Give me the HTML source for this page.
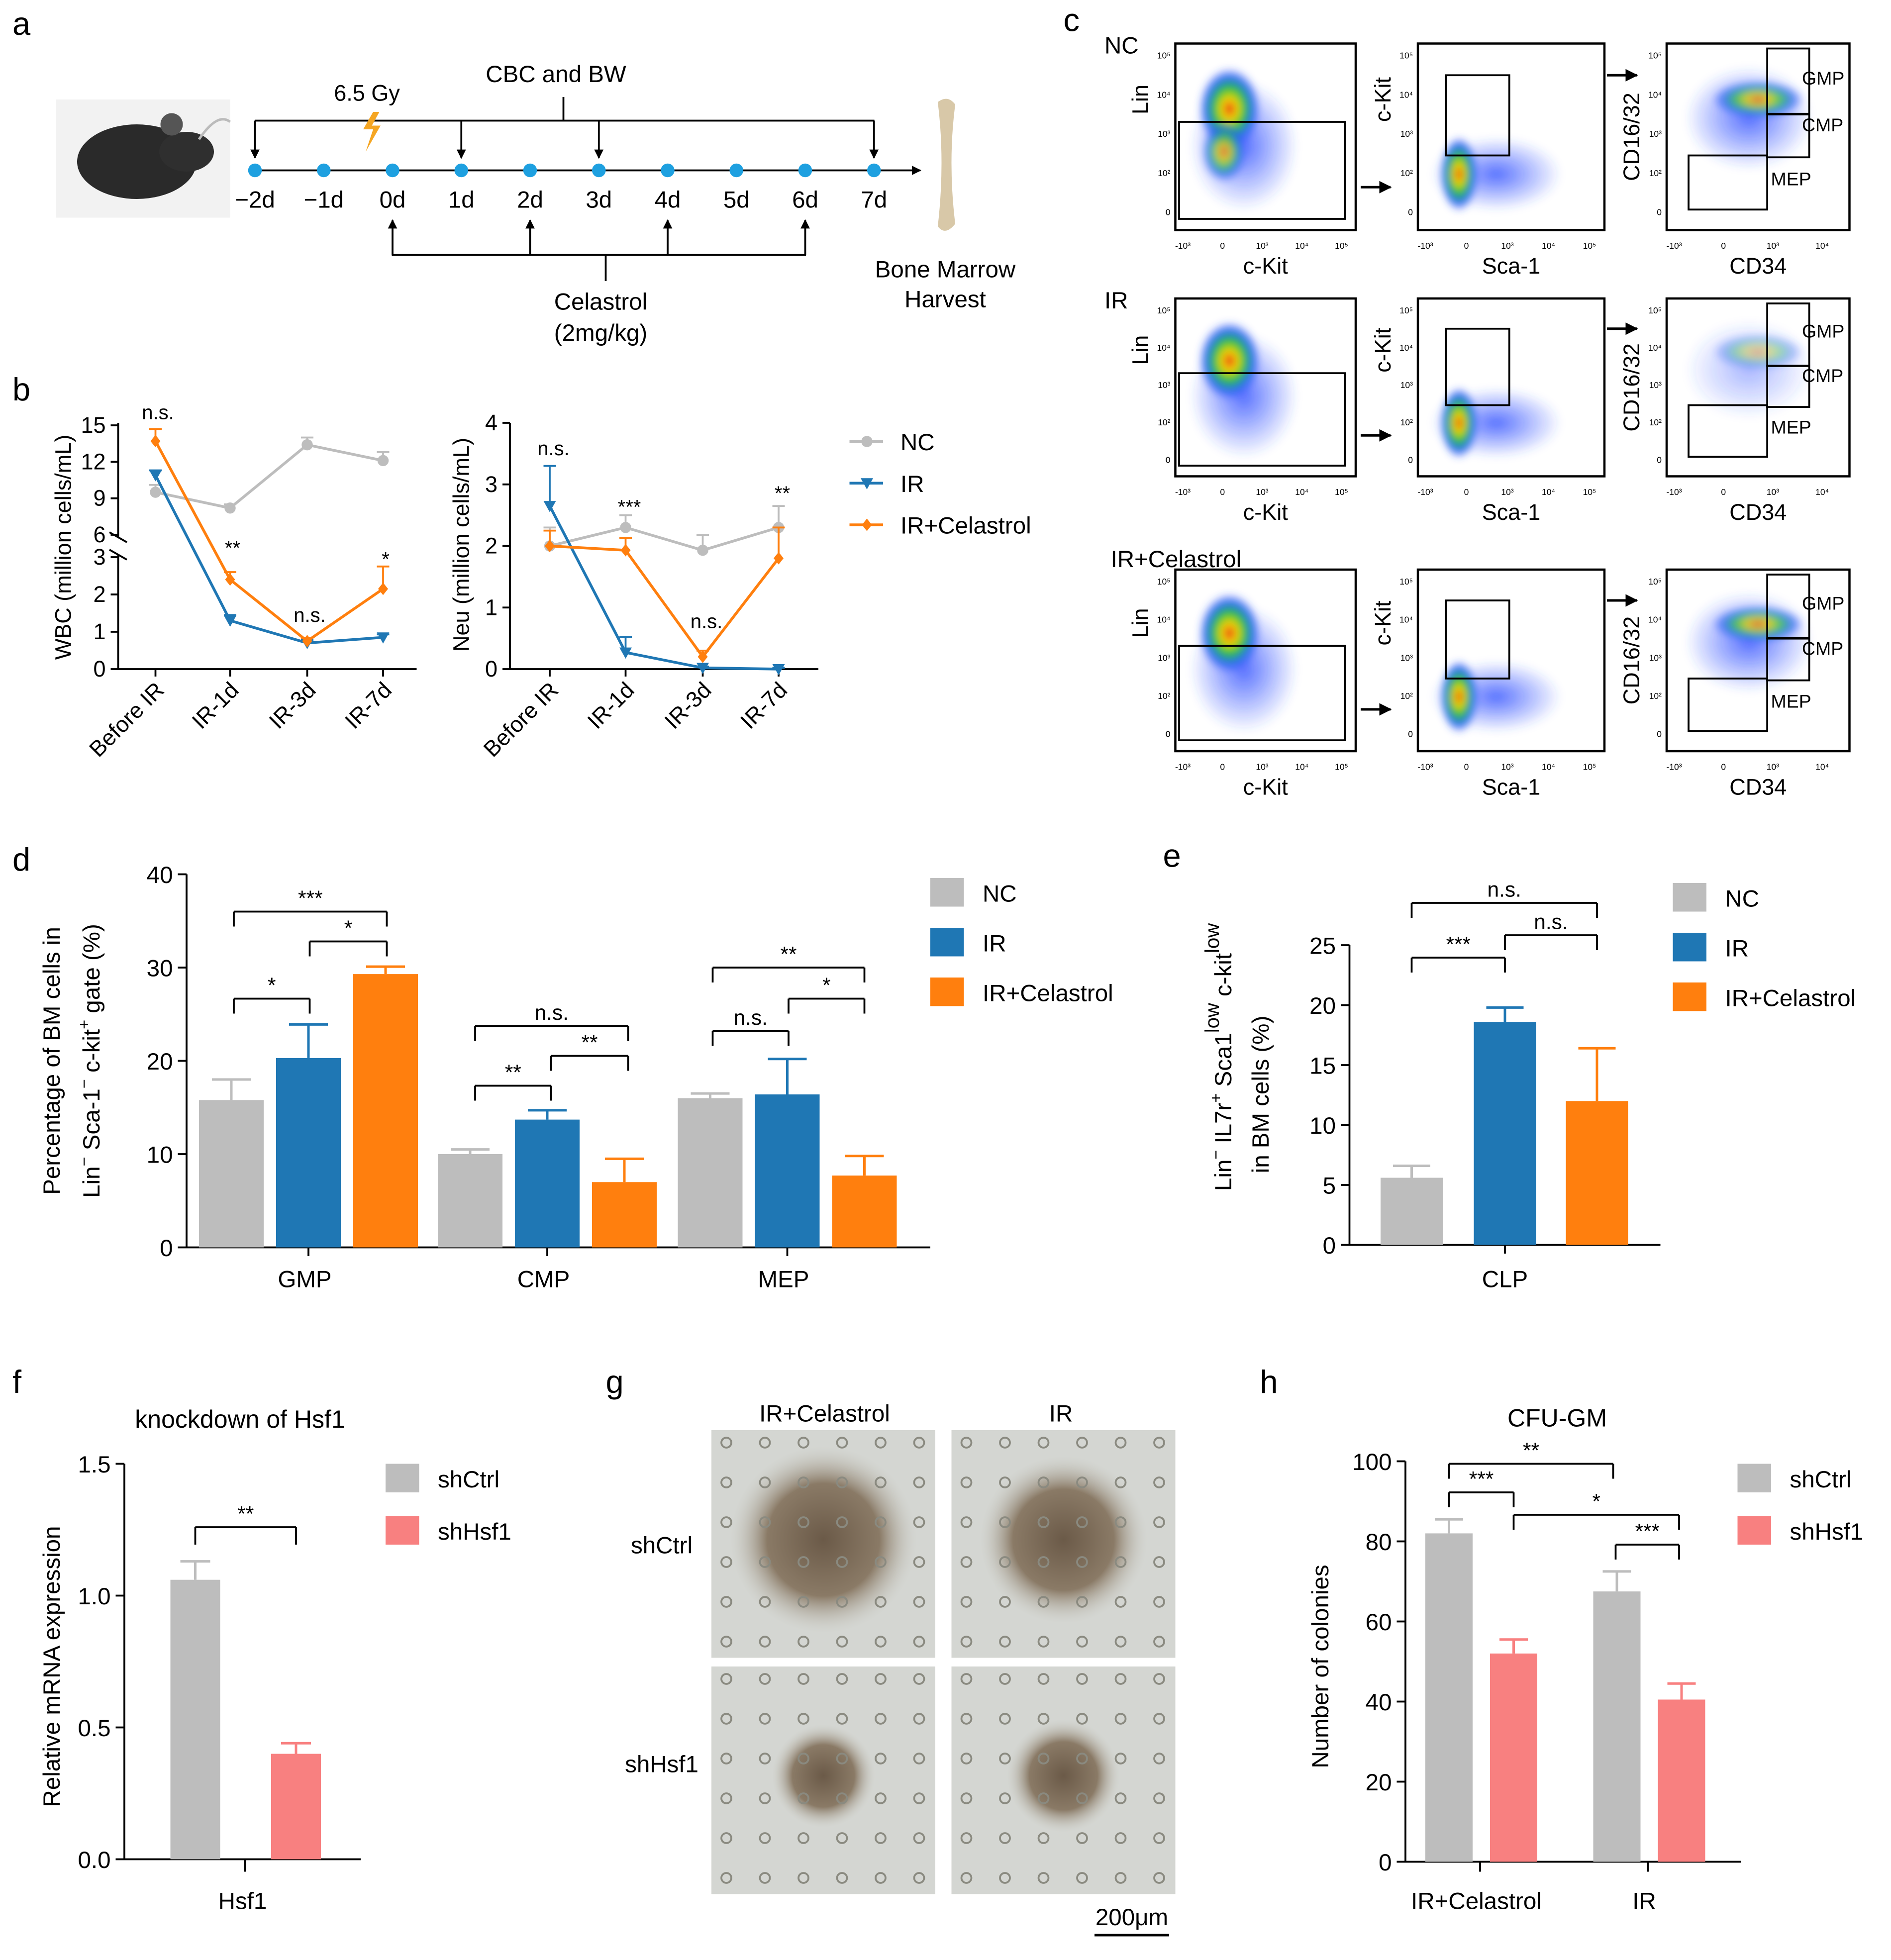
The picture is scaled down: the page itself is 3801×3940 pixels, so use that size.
<!DOCTYPE html>
<html><head><meta charset="utf-8"><style>
html,body{margin:0;padding:0;background:#fff}
svg{display:block;font-family:"Liberation Sans",Arial,sans-serif}
</style></head><body>
<svg id="fig" width="3801" height="3940" viewBox="0 0 1520.4 1576" xmlns="http://www.w3.org/2000/svg">
<defs>
<marker id="ah" viewBox="0 0 10 10" refX="9" refY="5" markerWidth="5" markerHeight="5" orient="auto"><path d="M0,0L10,5L0,10z" fill="#000"/></marker>
<radialGradient id="hot"><stop offset="0" stop-color="#e31a1c"/><stop offset="0.25" stop-color="#f7d900"/><stop offset="0.5" stop-color="#29c23a"/><stop offset="0.75" stop-color="#2a6cf0"/><stop offset="1" stop-color="#2a3cff" stop-opacity="0"/></radialGradient>
<radialGradient id="blu"><stop offset="0" stop-color="#3050ff" stop-opacity="0.8"/><stop offset="1" stop-color="#3050ff" stop-opacity="0"/></radialGradient>
<radialGradient id="cell"><stop offset="0" stop-color="#6b5a48"/><stop offset="0.6" stop-color="#8a7a66"/><stop offset="1" stop-color="#c8c8c0" stop-opacity="0"/></radialGradient>
<filter id="bl"><feGaussianBlur stdDeviation="3"/></filter>
</defs>
<g font-size="26"><text x="10" y="28">a</text><text x="10" y="322">b</text><text x="855" y="25">c</text><text x="10" y="700">d</text><text x="935" y="697">e</text><text x="10" y="1120">f</text><text x="487" y="1120">g</text><text x="1013" y="1120">h</text></g>
<g id="pa"></g>
<g id="pb"></g>
<g id="pc"></g>
<g id="pd"></g>
<g id="pe"></g>
<g id="pf"></g>
<g id="pg"></g>
<g id="ph"></g>
</svg>
<script>
const NS='http://www.w3.org/2000/svg';
function E(p,t,a,txt){const e=document.createElementNS(NS,t);for(const k in a)e.setAttribute(k,a[k]);if(txt!==undefined)e.textContent=txt;p.appendChild(e);return e;}
function L(p,x1,y1,x2,y2,s,w,extra){return E(p,'line',Object.assign({x1,y1,x2,y2,stroke:s||'#000','stroke-width':w||1.5},extra||{}));}
function T(p,x,y,s,fs,anchor,extra){return E(p,'text',Object.assign({x,y,'font-size':fs||17,'text-anchor':anchor||'middle'},extra||{}),s);}
const GREY='#bdbdbd',BLUE='#1f77b4',ORANGE='#ff7f0e',PINK='#f88080';

// ---- data arrays ----
const timeLabels=['\u22122d','\u22121d','0d','1d','2d','3d','4d','5d','6d','7d'];
const bCats=['Before IR','IR-1d','IR-3d','IR-7d'];
const wbcNC=[9.5,8.2,13.4,12.1], wbcNCerr=[0.6,0.3,0.6,0.7];
const wbcIR=[10.9,1.3,0.7,0.85], wbcIRerr=[0.4,0.15,0.08,0.08];
const wbcCel=[13.7,2.4,0.75,2.15], wbcCelerr=[1.0,0.2,0.08,0.6];
const wbcSig=['n.s.','**','n.s.','*'];
const neuNC=[2.0,2.3,1.93,2.3], neuNCerr=[0.3,0.2,0.25,0.35];
const neuIR=[2.65,0.27,0.02,0.0], neuIRerr=[0.65,0.25,0.02,0.02];
const neuCel=[2.0,1.93,0.2,1.8], neuCelerr=[0.25,0.2,0.1,0.5];
const neuSig=['n.s.','***','n.s.','**'];
const dCats=['GMP','CMP','MEP'];
const dNC=[15.8,10,16], dNCerr=[2.2,0.5,0.5];
const dIR=[20.3,13.7,16.4], dIRerr=[3.6,1.0,3.8];
const dCel=[29.3,7,7.7], dCelerr=[0.8,2.5,2.1];
const eVals=[5.6,18.6,12], eErr=[1.0,1.2,4.4];
const fVals=[1.06,0.4], fErr=[0.07,0.04];
const hCats=['IR+Celastrol','IR'];
const hCtrl=[82,67.5], hCtrlErr=[3.5,5];
const hSh=[52,40.5], hShErr=[3.5,4];

// ---- Panel a ----
(function(){const g=document.getElementById('pa');
 // mouse
 const m=E(g,'g',{});
 E(m,'rect',{x:45,y:80,width:140,height:95,fill:'#f2f2f2'});
 E(m,'ellipse',{cx:110,cy:130,rx:48,ry:30,fill:'#2a2a2a'});
 E(m,'ellipse',{cx:150,cy:122,rx:22,ry:16,fill:'#2f2f2f'});
 E(m,'ellipse',{cx:138,cy:100,rx:9,ry:9,fill:'#555'});
 E(m,'path',{d:'M160,112 Q175,90 185,98',stroke:'#bbb',fill:'none','stroke-width':2});
 const xs=timeLabels.map((_,i)=>205+i*55.3);
 L(g,200,137,740,137,'#000',1.5,{'marker-end':'url(#ah)'});
 xs.forEach((x,i)=>{const c=E(g,'circle',{cx:x,cy:137,r:5.5,fill:'#1ea0e0'});T(g,x,167,timeLabels[i],19);});
 L(g,205,97,703,97);L(g,453,97,453,78);
 [0,3,5,9].forEach(i=>L(g,xs[i],97,xs[i],127,'#000',1.5,{'marker-end':'url(#ah)'}));
 T(g,447,66,'CBC and BW',19);T(g,295,81,'6.5 Gy',18);
 E(g,'path',{d:'M300,90 L292,104 L300,104 L294,122 L306,101 L299,101 L305,90z',fill:'#f5a623'});
 L(g,315,205,648,205);L(g,487,205,487,226);
 [2,4,6,8].forEach(i=>L(g,xs[i],205,xs[i],177,'#000',1.5,{'marker-end':'url(#ah)'}));
 T(g,483,249,'Celastrol',19);T(g,483,274,'(2mg/kg)',19);
 const b=E(g,'path',{d:'M754,82 Q762,76 768,84 Q762,130 768,180 Q760,190 754,182 Q760,130 754,82z',fill:'#d8c8a8'});
 T(g,760,223,'Bone Marrow',19);T(g,760,247,'Harvest',19);
})();

// ---- Panel b ----
function marker(g,type,x,y,c){
 if(type==='c')E(g,'circle',{cx:x,cy:y,r:4.5,fill:c});
 else if(type==='t')E(g,'path',{d:`M${x-5},${y-4}L${x+5},${y-4}L${x},${y+5}z`,fill:c});
 else E(g,'path',{d:`M${x},${y-5}L${x+4},${y}L${x},${y+5}L${x-4},${y}z`,fill:c});
}
function series(g,xs,yf,vals,errs,c,type,name){
 const s=E(g,'g',{});
 E(s,'polyline',{points:vals.map((v,i)=>xs[i]+','+yf(v)).join(' '),fill:'none',stroke:c,'stroke-width':2.2});
 vals.forEach((v,i)=>{const y1=yf(v+errs[i]);L(s,xs[i],yf(v),xs[i],y1,c,1.5);L(s,xs[i]-5,y1,xs[i]+5,y1,c,1.5);marker(s,type,xs[i],yf(v),c);});
}
(function(){const g=document.getElementById('pb');
 // WBC
 const top=v=>342+(15-v)*9.78, bot=v=>538-v*30, yf=v=>v>=4.5?top(v):bot(v);
 const xs=[125,185,247,308];
 L(g,95,340,95,432);L(g,95,446,95,538);L(g,95,538,335,538);
 L(g,88,428,102,436);L(g,88,442,102,450);
 [15,12,9,6].forEach(v=>{L(g,89,top(v),95,top(v));T(g,85,top(v)+6,String(v),18,'end');});
 [3,2,1,0].forEach(v=>{L(g,89,bot(v),95,bot(v));T(g,85,bot(v)+6,String(v),18,'end');});
 xs.forEach((x,i)=>{L(g,x,538,x,544);T(g,x+8,556,bCats[i],18,'end',{transform:`rotate(-45 ${x+8} 556)`});});
 T(g,57,440,'WBC (million cells/mL)',18,'middle',{transform:'rotate(-90 57 440)'});
 series(g,xs,yf,wbcNC,wbcNCerr,GREY,'c','wbc-nc-line');
 series(g,xs,yf,wbcIR,wbcIRerr,BLUE,'t','wbc-ir-line');
 series(g,xs,yf,wbcCel,wbcCelerr,ORANGE,'d','wbc-celastrol-line');
 const sy=[337,446,500,455];
 xs.forEach((x,i)=>T(g,x+2,sy[i],wbcSig[i],16));
 // Neu
 const ny=v=>538-v*49.5, nx=[442,503,565,626];
 L(g,410,340,410,538);L(g,410,538,658,538);
 [0,1,2,3,4].forEach(v=>{L(g,404,ny(v),410,ny(v));T(g,400,ny(v)+6,String(v),18,'end');});
 nx.forEach((x,i)=>{L(g,x,538,x,544);T(g,x+8,556,bCats[i],18,'end',{transform:`rotate(-45 ${x+8} 556)`});});
 T(g,377,438,'Neu (million cells/mL)',18,'middle',{transform:'rotate(-90 377 438)'});
 series(g,nx,ny,neuNC,neuNCerr,GREY,'c','neu-nc-line');
 series(g,nx,ny,neuIR,neuIRerr,BLUE,'t','neu-ir-line');
 series(g,nx,ny,neuCel,neuCelerr,ORANGE,'d','neu-celastrol-line');
 const ns=[366,413,505,402];
 nx.forEach((x,i)=>T(g,x+3,ns[i],neuSig[i],16));
 // legend
 const lg=[['NC',GREY,'c'],['IR',BLUE,'t'],['IR+Celastrol',ORANGE,'d']];
 lg.forEach((l,i)=>{const y=355+i*33.5;const e=E(g,'g',{});L(e,683,y,710,y,l[1],2.2);marker(e,l[2],697,y,l[1]);T(e,724,y+7,l[0],19,'start');});
})();

// ---- Panel c ----
(function(){const g=document.getElementById('pc');
 const rows=[[35,185,'NC'],[240,383,'IR'],[458,604,'IR+Celastrol']];
 const cols=[[945,1090],[1140,1290],[1340,1487]];
 rows.forEach((r,ri)=>{const [y0,y1,lab]=r;const h=y1-y0;
  T(g,ri==2?893:888,y0+8-(ri==2?10:0),lab,19,'start');
  cols.forEach((c,ci)=>{const [x0,x1]=c;const w=x1-x0;
   const p=E(g,'g',{});
   E(p,'rect',{x:x0,y:y0,width:w,height:h,fill:'#fff',stroke:'#000','stroke-width':1.8});
   const f=E(p,'g',{filter:'url(#bl)'});
   if(ci==0){E(f,'ellipse',{cx:x0+w*0.38,cy:y0+h*0.55,rx:w*0.3,ry:h*0.35,fill:'url(#blu)'});
     E(f,'ellipse',{cx:x0+w*0.3,cy:y0+h*0.35,rx:w*0.17,ry:h*0.22,fill:'url(#hot)'});
     if(ri==0)E(f,'ellipse',{cx:x0+w*0.27,cy:y0+h*0.58,rx:w*0.12,ry:h*0.16,fill:'url(#hot)',opacity:0.8});}
   else if(ci==1){E(f,'ellipse',{cx:x0+w*0.42,cy:y0+h*0.7,rx:w*0.35,ry:h*0.2,fill:'url(#blu)'});
     E(f,'ellipse',{cx:x0+w*0.22,cy:y0+h*0.7,rx:w*0.1,ry:h*0.2,fill:'url(#hot)'});}
   else{E(f,'ellipse',{cx:x0+w*0.45,cy:y0+h*0.4,rx:w*0.35,ry:h*0.28,fill:'url(#blu)',opacity:ri==1?0.5:1});
     E(f,'ellipse',{cx:x0+w*0.5,cy:y0+h*0.3,rx:w*0.25,ry:h*0.1,fill:'url(#hot)',opacity:ri==1?0.4:0.8});}
   // gates
   if(ci==0)E(p,'rect',{x:x0+3,y:y0+h*0.42,width:w*0.92,height:h*0.52,fill:'none',stroke:'#000','stroke-width':1.5});
   if(ci==1)E(p,'rect',{x:x0+w*0.15,y:y0+h*0.17,width:w*0.34,height:h*0.43,fill:'none',stroke:'#000','stroke-width':1.5});
   if(ci==2){E(p,'rect',{x:x0+w*0.55,y:y0+4,width:w*0.23,height:h*0.35,fill:'none',stroke:'#000','stroke-width':1.5});
     E(p,'rect',{x:x0+w*0.55,y:y0+h*0.38,width:w*0.23,height:h*0.23,fill:'none',stroke:'#000','stroke-width':1.5});
     E(p,'rect',{x:x0+w*0.12,y:y0+h*0.6,width:w*0.43,height:h*0.29,fill:'none',stroke:'#000','stroke-width':1.5});
     T(p,x0+w*0.74,y0+h*0.22,'GMP',15,'start');T(p,x0+w*0.74,y0+h*0.47,'CMP',15,'start');T(p,x0+w*0.57,y0+h*0.76,'MEP',15,'start');}
   // ticks
   ['-10³','0','10³','10⁴','10⁵'].forEach((s,k)=>{if(ci==2&&k==4)return;T(p,x0+6+k*w*(ci==2?0.27:0.22),y1+15,s,7);});
   ['10⁵','10⁴','10³','10²','0'].forEach((s,k)=>T(p,x0-4,y0+12+k*h*0.21,s,7,'end'));
   const xl=['c-Kit','Sca-1','CD34'][ci], yl=['Lin','c-Kit','CD16/32'][ci];
   T(p,(x0+x1)/2,y1+35,xl,18);
   T(p,x0-22,(y0+y1)/2-(ci==2?0:30),yl,18,'middle',{transform:`rotate(-90 ${x0-22} ${(y0+y1)/2-(ci==2?0:30)})`});
  });
  L(g,1094,y0+h*0.77,1118,y0+h*0.77,'#000',2,{'marker-end':'url(#ah)'});
  L(g,1292,y0+h*0.17,1316,y0+h*0.17,'#000',2,{'marker-end':'url(#ah)'});
 });
})();

// ---- bar helpers ----
function bar(g,x,w,yf,v,e,c,name){
 const b=E(g,'g',{});
 E(b,'rect',{x:x-w/2,y:yf(v),width:w,height:yf(0)-yf(v),fill:c});
 const ye=yf(v+e);L(b,x,yf(v),x,ye,c,2);L(b,x-w*0.3,ye,x+w*0.3,ye,c,2);
}
function brk(g,x1,x2,y,d,s){L(g,x1,y+d,x1,y,'#000',1.5);L(g,x1,y,x2,y,'#000',1.5);L(g,x2,y,x2,y+d,'#000',1.5);T(g,(x1+x2)/2,y-5,s,17);}
function legend(g,x,y,dy,items){items.forEach((l,i)=>{const e=E(g,'g',{});E(e,'rect',{x:x,y:y+i*dy-12,width:27,height:23,fill:l[1]});T(e,x+42,y+i*dy+7,l[0],19,'start');});}

// ---- Panel d ----
(function(){const g=document.getElementById('pd');
 const yf=v=>1003-v*7.5, cx=[248,440,633];
 L(g,150,703,150,1003);L(g,150,1003,748,1003);
 [0,10,20,30,40].forEach(v=>{L(g,143,yf(v),150,yf(v));T(g,139,yf(v)+7,String(v),19,'end');});
 cx.forEach((x,i)=>{L(g,x,1003,x,1010);T(g,x-3,1035,dCats[i],19);
  bar(g,x-62,52,yf,dNC[i],dNCerr[i],GREY,'bar-nc-'+dCats[i]);
  bar(g,x,52,yf,dIR[i],dIRerr[i],BLUE,'bar-ir-'+dCats[i]);
  bar(g,x+62,52,yf,dCel[i],dCelerr[i],ORANGE,'bar-celastrol-'+dCats[i]);});
 brk(g,188,311,733,12,'***');brk(g,249,311,757,12,'*');brk(g,188,249,803,12,'*');
 brk(g,382,505,825,12,'n.s.');brk(g,443,505,849,12,'**');brk(g,382,443,873,12,'**');
 brk(g,573,695,778,12,'**');brk(g,634,695,803,12,'*');brk(g,573,634,829,12,'n.s.');
 const t=E(g,'text',{x:0,y:0,'font-size':19,'text-anchor':'middle',transform:'translate(48 853) rotate(-90)'});
 t.innerHTML='Percentage of BM cells in';
 const t2=E(g,'text',{x:0,y:0,'font-size':19,'text-anchor':'middle',transform:'translate(80 853) rotate(-90)'});
 t2.innerHTML='Lin<tspan dy="-8" font-size="13">−</tspan><tspan dy="8"> Sca-1</tspan><tspan dy="-8" font-size="13">−</tspan><tspan dy="8"> c-kit</tspan><tspan dy="-8" font-size="13">+</tspan><tspan dy="8"> gate (%)</tspan>';
 legend(g,748,718,40,[['NC',GREY],['IR',BLUE],['IR+Celastrol',ORANGE]]);
})();

// ---- Panel e ----
(function(){const g=document.getElementById('pe');
 const yf=v=>1001-v*9.64, xs=[1135,1210,1284];
 L(g,1085,760,1085,1001);L(g,1085,1001,1335,1001);
 [0,5,10,15,20,25].forEach(v=>{L(g,1078,yf(v),1085,yf(v));T(g,1074,yf(v)+7,String(v),19,'end');});
 L(g,1210,1001,1210,1008);T(g,1210,1035,'CLP',19);
 const nm=['nc','ir','celastrol'],cl=[GREY,BLUE,ORANGE];
 xs.forEach((x,i)=>bar(g,x,50,yf,eVals[i],eErr[i],cl[i],'bar-clp-'+nm[i]));
 brk(g,1135,1284,726,12,'n.s.');brk(g,1210,1284,752,12,'n.s.');brk(g,1135,1210,770,12,'***');
 const t=E(g,'text',{x:0,y:0,'font-size':19,'text-anchor':'middle',transform:'translate(990 850) rotate(-90)'});
 t.innerHTML='Lin<tspan dy="-8" font-size="13">−</tspan><tspan dy="8"> IL7r</tspan><tspan dy="-8" font-size="13">+</tspan><tspan dy="8"> Sca1</tspan><tspan dy="-10" font-size="16">low</tspan><tspan dy="10"> c-kit</tspan><tspan dy="-10" font-size="16">low</tspan>';
 T(g,0,0,'in BM cells (%)',19,'middle',{transform:'translate(1020 880) rotate(-90)'});
 legend(g,1345,722,40,[['NC',GREY],['IR',BLUE],['IR+Celastrol',ORANGE]]);
})();

// ---- Panel f ----
(function(){const g=document.getElementById('pf');
 const yf=v=>1495-v*212, xs=[157,238];
 L(g,100,1177,100,1495);L(g,100,1495,290,1495);
 [0,0.5,1.0,1.5].forEach(v=>{L(g,93,yf(v),100,yf(v));T(g,89,yf(v)+7,v.toFixed(1),19,'end');});
 L(g,197,1495,197,1505);T(g,195,1535,'Hsf1',19);
 bar(g,xs[0],40,yf,fVals[0],fErr[0],GREY,'bar-shctrl');bar(g,xs[1],40,yf,fVals[1],fErr[1],PINK,'bar-shhsf1');
 brk(g,157,238,1228,14,'**');
 T(g,193,1148,'knockdown of Hsf1',20);
 T(g,0,0,'Relative  mRNA expression',19,'middle',{transform:'translate(48 1340) rotate(-90)'});
 legend(g,310,1189,42,[['shCtrl',GREY],['shHsf1',PINK]]);
})();

// ---- Panel g ----
(function(){const g=document.getElementById('pg');
 const pos=[[572,1150,'shCtrl-IR+Celastrol',58],[765,1150,'shCtrl-IR',52],[572,1340,'shHsf1-IR+Celastrol',32],[765,1340,'shHsf1-IR',35]];
 pos.forEach(p=>{const c=E(g,'g',{});
  E(c,'rect',{x:p[0],y:p[1],width:180,height:183,fill:'#d4d6d2'});
  E(c,'circle',{cx:p[0]+90,cy:p[1]+88,r:p[3]*1.3,fill:'url(#cell)'});
  for(let i=0;i<6;i++)for(let j=0;j<6;j++)E(c,'circle',{cx:p[0]+12+i*31,cy:p[1]+10+j*32,r:4,fill:'none',stroke:'#8a8a80','stroke-width':1.5});
 });
 T(g,663,1143,'IR+Celastrol',19);T(g,853,1143,'IR',19);
 T(g,532,1249,'shCtrl',19);T(g,532,1425,'shHsf1',19);
 T(g,910,1548,'200μm',19);L(g,880,1556,940,1556,'#000',2);
})();

// ---- Panel h ----
(function(){const g=document.getElementById('ph');
 const yf=v=>1497-v*3.22, cx=[1190,1325];
 L(g,1130,1175,1130,1497);L(g,1130,1497,1400,1497);
 [0,20,40,60,80,100].forEach(v=>{L(g,1123,yf(v),1130,yf(v));T(g,1119,yf(v)+7,String(v),19,'end');});
 cx.forEach((x,i)=>{L(g,x,1497,x,1505);T(g,x-3,1535,hCats[i],19);
  bar(g,x-25,38,yf,hCtrl[i],hCtrlErr[i],GREY,'bar-shctrl-'+hCats[i]);
  bar(g,x+27,38,yf,hSh[i],hShErr[i],PINK,'bar-shhsf1-'+hCats[i]);});
 brk(g,1165,1297,1177,12,'**');brk(g,1165,1217,1200,12,'***');brk(g,1217,1350,1218,12,'*');brk(g,1299,1350,1242,12,'***');
 T(g,1252,1147,'CFU-GM',20);
 T(g,0,0,'Number of colonies',19,'middle',{transform:'translate(1068 1340) rotate(-90)'});
 legend(g,1397,1189,42,[['shCtrl',GREY],['shHsf1',PINK]]);
})();
</script>
</body></html>
